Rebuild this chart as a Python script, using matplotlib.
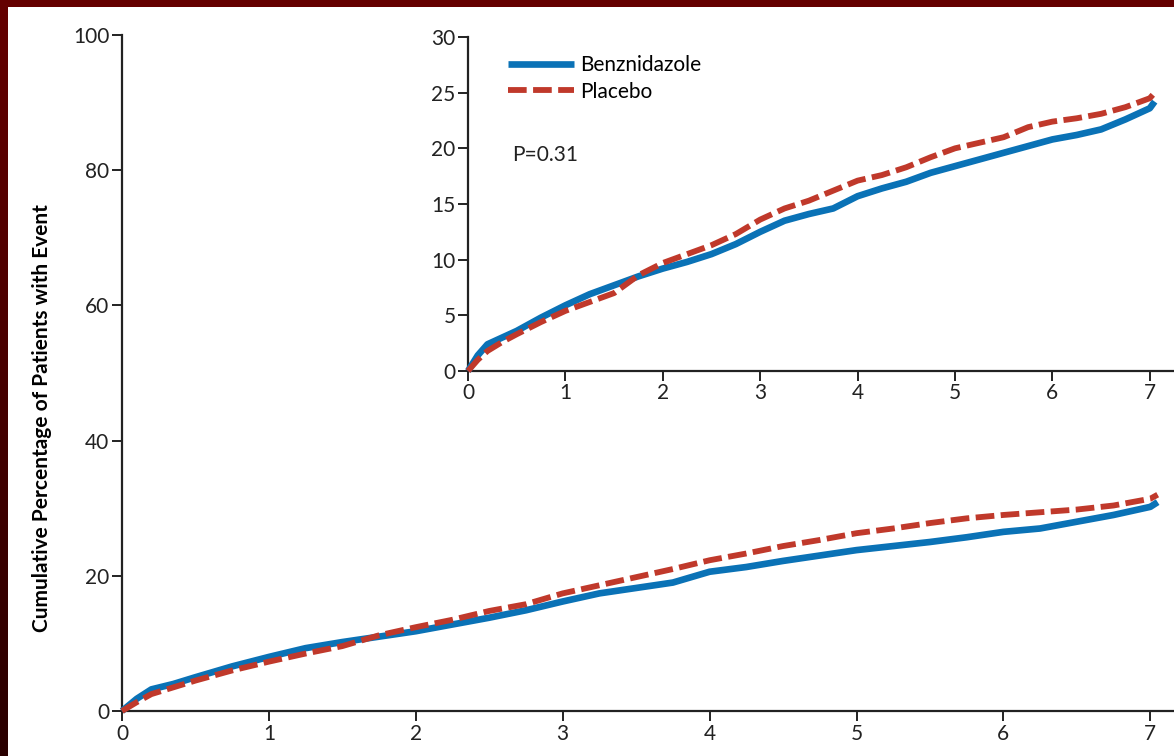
import matplotlib
matplotlib.use('Agg')
import numpy as np
import matplotlib.pyplot as plt
from matplotlib.patches import Rectangle

# values
years = [0, 0.1, 0.2, 0.35, 0.5, 0.75, 1.0, 1.25, 1.5, 1.75, 2.0, 2.25, 2.5, 2.75,
         3.0, 3.25, 3.5, 3.75, 4.0, 4.25, 4.5, 4.75, 5.0, 5.25, 5.5, 5.75, 6.0,
         6.25, 6.5, 6.75, 7.0, 7.05]

main_benz = [0, 1.8, 3.2, 4.0, 5.0, 6.6, 8.0, 9.3, 10.2, 11.0, 11.8, 12.8, 13.8, 14.9,
             16.2, 17.4, 18.2, 19.0, 20.6, 21.3, 22.2, 23.0, 23.8, 24.4, 25.0, 25.7, 26.5,
             27.0, 28.0, 29.0, 30.2, 30.9]
main_plac = [0, 1.3, 2.5, 3.5, 4.5, 6.0, 7.3, 8.5, 9.6, 11.2, 12.4, 13.5, 14.8, 15.8,
             17.4, 18.6, 19.8, 21.0, 22.3, 23.3, 24.4, 25.3, 26.3, 27.0, 27.8, 28.5, 29.0,
             29.4, 29.8, 30.4, 31.4, 32.0]

inset_benz = [0, 1.4, 2.4, 3.0, 3.6, 4.8, 5.9, 6.9, 7.7, 8.5, 9.2, 9.8, 10.5, 11.4,
              12.5, 13.5, 14.1, 14.6, 15.7, 16.4, 17.0, 17.8, 18.4, 19.0, 19.6, 20.2, 20.8,
              21.2, 21.7, 22.6, 23.6, 24.2]
inset_plac = [0, 1.0, 1.8, 2.6, 3.3, 4.4, 5.4, 6.2, 7.0, 8.6, 9.7, 10.5, 11.3, 12.3,
              13.6, 14.6, 15.3, 16.2, 17.1, 17.6, 18.3, 19.2, 20.0, 20.5, 21.0, 21.9, 22.4,
              22.7, 23.1, 23.7, 24.5, 25.0]

main_yticks = [0, 20, 40, 60, 80, 100]
inset_yticks = [0, 5, 10, 15, 20, 25, 30]
xticks = [0, 1, 2, 3, 4, 5, 6, 7]

blue = '#0a72b6'
red = '#c0392b'
plt.rcParams['font.family'] = ['Lato', 'DejaVu Sans']

fig = plt.figure(figsize=(11.74, 7.56), dpi=100)
fig.patch.set_facecolor('white')

# dark red frame on top and left edges
fig.patches.append(Rectangle((0, 1 - 7 / 756), 1, 7 / 756, transform=fig.transFigure,
                             facecolor='#650000', edgecolor='none', zorder=0))
edge = fig.add_axes([0, 0, 8 / 1174, 1])
grad = np.linspace(0, 1, 256).reshape(-1, 1)
edge.imshow(grad, aspect='auto', cmap=matplotlib.colors.LinearSegmentedColormap.from_list(
    'edge', ['#650000', '#2a0000']), extent=[0, 1, 0, 1])
edge.set_axis_off()


def style(ax, xmax, ymax, yticks, fs):
    ax.set_xlim(0, xmax)
    ax.set_ylim(0, ymax)
    ax.set_xticks(xticks)
    ax.set_yticks(yticks)
    for s in ['top', 'right']:
        ax.spines[s].set_visible(False)
    for s in ['left', 'bottom']:
        ax.spines[s].set_linewidth(1.6)
        ax.spines[s].set_color('#222222')
    ax.tick_params(direction='out', length=7, width=1.4, labelsize=fs, colors='#222222', pad=2)
    ax.spines['left'].set_position(('data', 0))
    ax.spines['bottom'].set_position(('data', 0))
    ax.set_facecolor('none')


# main axes
ax = fig.add_axes([122 / 1174, 1 - 711 / 756, 1 - 122 / 1174, (711 - 35) / 756])
style(ax, (1174 - 122) / 146.9, 100, main_yticks, 15)
ax.plot(years, main_benz, color=blue, lw=4.8, solid_capstyle='butt', clip_on=False, zorder=3)
ax.plot(years, main_plac, color=red, lw=4.2, dashes=(3.2, 1.1), clip_on=False, zorder=4)
ax.set_ylabel('Cumulative Percentage of Patients with Event', fontsize=15, fontweight='bold')
ax.yaxis.set_label_coords(-0.067, 0.433)

# inset axes
ins = fig.add_axes([468 / 1174, 1 - 371 / 756, 1 - 468 / 1174, (371 - 37) / 756])
style(ins, (1174 - 468) / 97.4, 30, inset_yticks, 15)
ins.plot(years, inset_benz, color=blue, lw=4.8, solid_capstyle='butt', clip_on=False,
         zorder=3, label='Benznidazole')
ins.plot(years, inset_plac, color=red, lw=4.2, dashes=(3.2, 1.1), clip_on=False, zorder=4,
         label='Placebo')
ins.legend(loc='upper left', bbox_to_anchor=(0.056, 0.945), frameon=False, fontsize=15,
           handlelength=3.2, handletextpad=0.3, borderpad=0, borderaxespad=0, labelspacing=0.3)
ins.text(0.062, 0.647, 'P=0.31', transform=ins.transAxes, fontsize=15, va='center',
         color='#222222')

fig.savefig('out.png', dpi=100)
